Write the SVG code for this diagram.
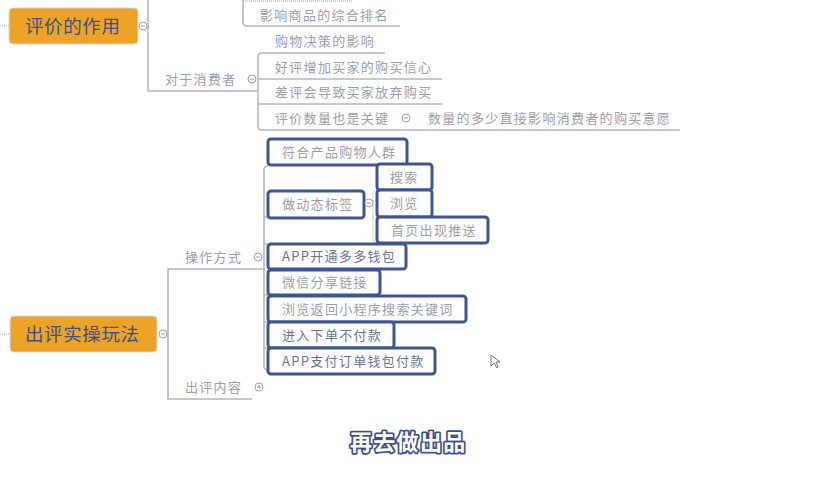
<svg xmlns="http://www.w3.org/2000/svg" width="820" height="480" viewBox="0 0 820 480">
<style>
.ln{fill:none;stroke:#b2b8bd;stroke-width:1.6}
.dt{fill:none;stroke:#9aa3b6;stroke-width:1;stroke-dasharray:1 1}
.t{font-family:"Noto Sans CJK SC","Noto Sans",sans-serif;font-size:13px;letter-spacing:1.3px;fill:#9a9ea7}
.td{fill:#6a7490}
.top rect{fill:#eca326;stroke:#d4d8dd;stroke-width:1}
.top text{font-family:"Noto Sans CJK SC","Noto Sans",sans-serif;font-size:18.5px;letter-spacing:0.6px;fill:#3c4f86}
.box rect{fill:#fff;stroke:#3e5690;stroke-width:3}
.c circle{fill:#fff;stroke:#9aa2ab;stroke-width:1}
.c path{stroke:#9aa2ab;stroke-width:1}
.cap{font-family:"Noto Sans CJK SC","Noto Sans",sans-serif;font-size:22px;letter-spacing:1.3px;font-weight:bold;fill:#fff;stroke:#3b4f8a;stroke-width:3.5;paint-order:stroke;stroke-linejoin:round}
</style>
<rect width="820" height="480" fill="#fff"/>
<g id="connectors">
  <path class="dt" d="M0 26 H9"/>
  <path class="ln" d="M148 0 V91 H258"/>
  <path class="dt" d="M243 1 H352"/>
  <path class="ln" d="M243 0 V22 Q243 26 247 26 H400"/>
  <path class="ln" d="M385 53 H262 Q258 53 258 57 V126 Q258 130 262 130 H680"/>
  <path class="ln" d="M258 79 H442"/>
  <path class="ln" d="M258 104 H442"/>
  <path class="dt" d="M0 334 H10"/>
  <path class="ln" d="M265 269 H168 V399 H252"/>
  <path class="ln" d="M268 166 Q264 166 264 170 V366 Q264 370 268 370"/>
  <path class="ln" d="M264 217 H268 M264 244 H268 M264 295 H268 M264 322 H268 M264 348 H268"/>
  <path class="dt" d="M377 190 Q373 190 373 194 V240 Q373 243 377 243"/>
</g>
<g id="n-pingjia" class="top">
  <rect x="9" y="8" width="129" height="36" rx="4"/>
  <text x="25" y="33">评价的作用</text>
</g>
<g id="n-chuping" class="top">
  <rect x="10" y="316" width="147" height="36" rx="4"/>
  <text x="25" y="341">出评实操玩法</text>
</g>
<g id="n-paiming"><text class="t" x="260" y="20">影响商品的综合排名</text></g>
<g id="n-juece"><text class="t" x="275" y="46">购物决策的影响</text></g>
<g id="n-xiaofeizhe"><text class="t" x="165" y="84">对于消费者</text></g>
<g id="n-haoping"><text class="t" x="275" y="72">好评增加买家的购买信心</text></g>
<g id="n-chaping"><text class="t" x="275" y="97">差评会导致买家放弃购买</text></g>
<g id="n-shuliang"><text class="t" x="275" y="123">评价数量也是关键</text></g>
<g id="n-yiyuan"><text class="t" x="428" y="123">数量的多少直接影响消费者的购买意愿</text></g>
<g id="n-caozuo"><text class="t" x="185" y="262">操作方式</text></g>
<g id="n-neirong"><text class="t" x="185" y="392">出评内容</text></g>
<g id="b1" class="box"><rect x="268" y="139" width="139" height="26" rx="3"/><text class="t" x="282" y="157">符合产品购物人群</text></g>
<g id="b2" class="box"><rect x="268" y="191" width="96" height="27" rx="3"/><text class="t" x="282" y="209">做动态标签</text></g>
<g id="b3" class="box"><rect x="377" y="164" width="55" height="26" rx="3"/><text class="t" x="390" y="182">搜索</text></g>
<g id="b4" class="box"><rect x="377" y="190" width="55" height="27" rx="3"/><text class="t" x="390" y="208">浏览</text></g>
<g id="b5" class="box"><rect x="377" y="217" width="111" height="26" rx="3"/><text class="t" x="391" y="235">首页出现推送</text></g>
<g id="b6" class="box"><rect x="268" y="244" width="138" height="25" rx="3"/><text class="t td" x="282" y="261">APP开通多多钱包</text></g>
<g id="b7" class="box"><rect x="268" y="270" width="112" height="25" rx="3"/><text class="t" x="282" y="287">微信分享链接</text></g>
<g id="b8" class="box"><rect x="268" y="296" width="198" height="26" rx="3"/><text class="t" x="282" y="314">浏览返回小程序搜索关键词</text></g>
<g id="b9" class="box"><rect x="268" y="322" width="126" height="26" rx="3"/><text class="t td" x="282" y="340">进入下单不付款</text></g>
<g id="b10" class="box"><rect x="268" y="348" width="167" height="26" rx="3"/><text class="t td" x="282" y="366">APP支付订单钱包付款</text></g>
<g id="toggles" class="c">
  <circle cx="143" cy="26" r="4"/><path d="M141 26 H145"/>
  <circle cx="252" cy="79" r="4"/><path d="M250 79 H254"/>
  <circle cx="406" cy="118" r="4"/><path d="M404 118 H408"/>
  <circle cx="163" cy="334" r="4"/><path d="M161 334 H165"/>
  <circle cx="258" cy="257" r="4"/><path d="M256 257 H260"/>
  <circle cx="369" cy="203" r="4"/><path d="M367 203 H371"/>
  <circle cx="259" cy="387" r="4"/><path d="M257 387 H261 M259 385 V389"/>
</g>
<path d="M491 355 L491 366 L494 363 L497 368 L498 367 L496 362 L500 362 Z" fill="#fff" stroke="#555" stroke-width="0.8"/>
<text class="cap" x="350" y="450">再去做出品</text>
</svg>
